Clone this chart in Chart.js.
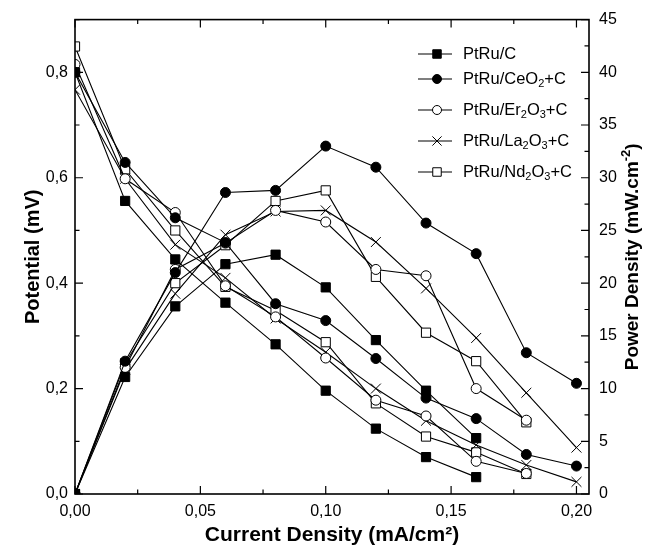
<!DOCTYPE html>
<html>
<head>
<meta charset="utf-8">
<script src="https://cdn.jsdelivr.net/npm/chart.js@4.4.1/dist/chart.umd.min.js"></script>
<style>
    body { margin: 0; background: #fff; }
    #wrap { width: 646px; height: 550px; }
</style>
</head>
<body>
<div id="wrap"><canvas id="chart" width="646" height="550"></canvas></div>
<script>
// current density (mA/cm2), shared by every series
const currentDensity = [0, 0.02, 0.04, 0.06, 0.08, 0.10, 0.12, 0.14, 0.16, 0.18, 0.20];

const seriesNames = ['PtRu/C', 'PtRu/CeO₂+C', 'PtRu/Er₂O₃+C', 'PtRu/La₂O₃+C', 'PtRu/Nd₂O₃+C'];

// potential (mV) - left axis
const potentialC  = [0.80, 0.556, 0.445, 0.363, 0.284, 0.196, 0.124, 0.070, 0.032];
const potentialCe = [0.80, 0.629, 0.524, 0.477, 0.361, 0.329, 0.257, 0.182, 0.143, 0.075, 0.053];
const potentialEr = [0.815, 0.598, 0.534, 0.395, 0.336, 0.258, 0.178, 0.148, 0.062, 0.039];
const potentialLa = [0.767, 0.598, 0.473, 0.410, 0.333, 0.269, 0.200, 0.139, 0.093, 0.055, 0.023];
const potentialNd = [0.849, 0.616, 0.500, 0.393, 0.348, 0.288, 0.172, 0.109, 0.079, 0.038];

// power density (mW.cm-2) - right axis
const powerC  = [0, 11.1, 17.8, 21.8, 22.7, 19.6, 14.6, 9.8, 5.3];
const powerCe = [0, 12.6, 21.0, 28.6, 28.8, 33.0, 31.0, 25.7, 22.8, 13.4, 10.5];
const powerEr = [0, 12.0, 21.3, 23.8, 26.9, 25.8, 21.3, 20.7, 10.0, 7.0];
const powerLa = [0, 11.8, 19.0, 24.6, 26.8, 26.9, 23.9, 19.5, 14.8, 9.6, 4.4];
const powerNd = [0, 12.4, 20.0, 23.6, 27.8, 28.8, 20.6, 15.3, 12.6, 6.8];

const xTicks = [0, 0.05, 0.10, 0.15, 0.20];
const potentialTicks = [0, 0.2, 0.4, 0.6, 0.8];
const powerTicks = [0, 5, 10, 15, 20, 25, 30, 35, 40, 45];

const potentials = [potentialC, potentialCe, potentialEr, potentialLa, potentialNd];
const powers = [powerC, powerCe, powerEr, powerLa, powerNd];

// marker look per series
const markers = [
    {style: 'rect', radius: 6.5, fill: '#000'},
    {style: 'circle', radius: 5, fill: '#000'},
    {style: 'circle', radius: 5, fill: '#fff'},
    {style: 'crossRot', radius: 7, fill: '#fff'},
    {style: 'rect', radius: 6.5, fill: '#fff'}
];

const FONT = "'Liberation Sans', Arial, Helvetica, sans-serif";

function toPoints(vals){
    return vals.map((v, i) => ({x: currentDensity[i], y: v}));
}

function makeSet(name, vals, i, axis){
    const m = markers[i];
    return {
        label: name,
        data: toPoints(vals),
        yAxisID: axis,
        showLine: true,
        borderColor: '#000',
        borderWidth: 1.1,
        pointStyle: m.style,
        pointRadius: m.radius,
        pointBackgroundColor: m.fill,
        pointBorderColor: '#000',
        pointBorderWidth: 1,
        tension: 0
    };
}

const datasets = [];
seriesNames.forEach((name, i) => {
    datasets.push(makeSet(name, potentials[i], i, 'yV'));
    datasets.push(makeSet(name, powers[i], i, 'yP'));
});

// draws a string, turning unicode sub/superscript digits into small shifted text
const SUB = {'₀':'0','₁':'1','₂':'2','₃':'3','₄':'4'};
const SUP = {'⁻':'-','²':'2','³':'3'};
function richParts(str){
    const parts = [];
    for(const ch of str){
        let kind = 'n', c = ch;
        if(SUB[ch]){ kind = 'sub'; c = SUB[ch]; }
        else if(SUP[ch]){ kind = 'sup'; c = SUP[ch]; }
        const last = parts[parts.length-1];
        if(last && last.kind === kind) last.text += c;
        else parts.push({kind, text: c});
    }
    return parts;
}
function richWidth(ctx, parts, size, weight){
    let w = 0;
    parts.forEach(p => {
        ctx.font = `${weight} ${p.kind==='n' ? size : Math.round(size*0.68)}px ${FONT}`;
        w += ctx.measureText(p.text).width;
    });
    return w;
}
function drawRich(ctx, str, x, y, size, weight){
    const parts = richParts(str);
    ctx.textBaseline = 'middle';
    ctx.textAlign = 'left';
    let cx = x;
    parts.forEach(p => {
        const small = p.kind !== 'n';
        ctx.font = `${weight} ${small ? Math.round(size*0.68) : size}px ${FONT}`;
        let dy = 0;
        if(p.kind==='sub') dy = size*0.3;
        if(p.kind==='sup') dy = -size*0.35;
        ctx.fillText(p.text, cx, y + dy);
        cx += ctx.measureText(p.text).width;
    });
    return parts;
}

// box frame plus inward ticks on all four sides
const frameTicks = {
    id: 'frameTicks',
    afterDraw(chart){
        const {ctx, chartArea: a, scales} = chart;
        ctx.save();
        ctx.strokeStyle = '#000';
        ctx.lineWidth = 1.6;
        ctx.strokeRect(a.left, a.top, a.right - a.left, a.bottom - a.top);
        ctx.lineWidth = 1.2;
        ctx.beginPath();
        const sx = scales.x, sv = scales.yV, sp = scales.yP;
        xTicks.forEach(v => {
            [[v, 8], [v + 0.025, 4.5]].forEach(([t, len]) => {
                if(t > sx.max) return;
                const px = sx.getPixelForValue(t);
                ctx.moveTo(px, a.bottom); ctx.lineTo(px, a.bottom - len);
                ctx.moveTo(px, a.top); ctx.lineTo(px, a.top + len);
            });
        });
        potentialTicks.forEach(v => {
            [[v, 8], [v + 0.1, 4.5]].forEach(([t, len]) => {
                if(t > sv.max) return;
                const py = sv.getPixelForValue(t);
                ctx.moveTo(a.left, py); ctx.lineTo(a.left + len, py);
            });
        });
        powerTicks.forEach(v => {
            [[v, 8], [v + 2.5, 4.5]].forEach(([t, len]) => {
                if(t > sp.max) return;
                const py = sp.getPixelForValue(t);
                ctx.moveTo(a.right, py); ctx.lineTo(a.right - len, py);
            });
        });
        ctx.stroke();
        ctx.restore();
    }
};

// legend in the upper right corner of the plot
const legendBox = {
    id: 'legendBox',
    afterDraw(chart){
        const ctx = chart.ctx;
        const rows = [54, 79, 110, 141, 172];
        ctx.save();
        seriesNames.forEach((name, i) => {
            const y = rows[i];
            const m = markers[i];
            ctx.strokeStyle = '#000';
            ctx.lineWidth = 1.1;
            ctx.beginPath();
            ctx.moveTo(418, y); ctx.lineTo(452, y);
            ctx.stroke();
            ctx.fillStyle = m.fill;
            ctx.lineWidth = 1;
            Chart.helpers.drawPoint(ctx, {pointStyle: m.style, radius: m.style==='circle' ? 4.5 : m.radius - 0.5, rotation: 0, borderWidth: 1}, 437, y);
            ctx.fillStyle = '#000';
            drawRich(ctx, name, 463, y, 16.5, 'normal');
        });
        ctx.restore();
    }
};

// right axis title reads bottom to top like the left one
const rightTitle = {
    id: 'rightTitle',
    afterDraw(chart){
        const ctx = chart.ctx;
        const a = chart.chartArea;
        const text = 'Power Density (mW.cm⁻²)';
        const size = 19;
        ctx.save();
        const w = richWidth(ctx, richParts(text), size, 'bold');
        ctx.translate(633, (a.top + a.bottom) / 2);
        ctx.rotate(-Math.PI / 2);
        ctx.fillStyle = '#000';
        drawRich(ctx, text, -w / 2, 0, size, 'bold');
        ctx.restore();
    }
};

const tickFont = {family: FONT, size: 16};

new Chart(document.getElementById('chart'), {
    type: 'scatter',
    data: {datasets: datasets},
    options: {
        responsive: false,
        animation: false,
        devicePixelRatio: 1,
        layout: {padding: {top: 15, left: 0, right: 0, bottom: 0}},
        plugins: {
            legend: {display: false},
            tooltip: {enabled: false}
        },
        scales: {
            x: {
                type: 'linear',
                min: 0,
                max: 0.205,
                grid: {display: false, drawTicks: false},
                border: {display: false},
                afterBuildTicks: s => { s.ticks = xTicks.map(v => ({value: v})); },
                afterFit: s => { s.height = 56; },
                ticks: {
                    color: '#000',
                    font: tickFont,
                    padding: 8,
                    maxRotation: 0,
                    callback: v => v.toFixed(2).replace('.', ',')
                },
                title: {
                    display: true,
                    text: 'Current Density (mA/cm²)',
                    color: '#000',
                    font: {family: FONT, size: 21, weight: 'bold'},
                    padding: {top: 0, bottom: 2}
                }
            },
            yV: {
                type: 'linear',
                position: 'left',
                min: 0,
                max: 0.9,
                grid: {display: false, drawTicks: false},
                border: {display: false},
                afterBuildTicks: s => { s.ticks = potentialTicks.map(v => ({value: v})); },
                afterFit: s => { s.width = 75; },
                ticks: {
                    color: '#000',
                    font: tickFont,
                    padding: 7,
                    callback: v => v.toFixed(1).replace('.', ',')
                },
                title: {
                    display: true,
                    text: 'Potential (mV)',
                    color: '#000',
                    font: {family: FONT, size: 20, weight: 'bold'},
                    padding: {top: 21, bottom: 0}
                }
            },
            yP: {
                type: 'linear',
                position: 'right',
                min: 0,
                max: 45,
                grid: {display: false, drawTicks: false},
                border: {display: false},
                afterBuildTicks: s => { s.ticks = powerTicks.map(v => ({value: v})); },
                afterFit: s => { s.width = 57; },
                ticks: {
                    color: '#000',
                    font: tickFont,
                    padding: 10,
                    callback: v => String(v)
                }
            }
        }
    },
    plugins: [frameTicks, legendBox, rightTitle]
});
</script>
</body>
</html>
